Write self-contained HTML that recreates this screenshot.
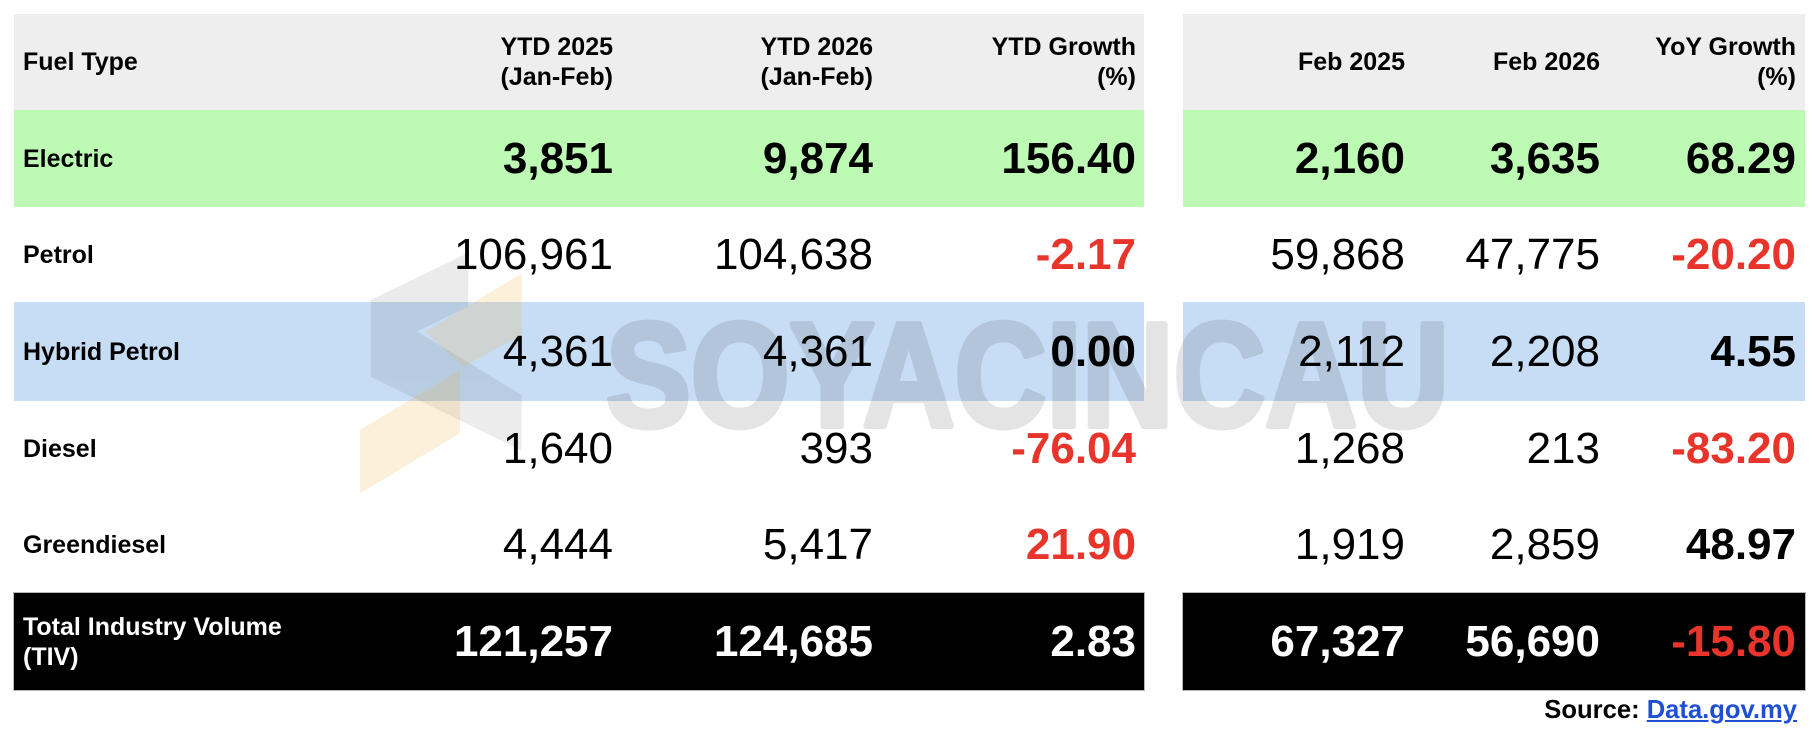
<!DOCTYPE html>
<html>
<head>
<meta charset="utf-8">
<style>
  html,body{margin:0;padding:0;}
  body{width:1812px;height:735px;background:#fff;position:relative;overflow:hidden;font-family:"Liberation Sans",Arial,sans-serif;color:#000;}
  .bg{position:absolute;}
  .c{position:absolute;display:flex;align-items:center;white-space:nowrap;}
  .r{justify-content:flex-end;text-align:right;}
  .lbl{font-weight:bold;font-size:25px;left:23px;line-height:30px;}
  .h{font-weight:bold;font-size:25px;line-height:30px;}
  .n{font-size:44px;}
  .b{font-weight:bold;}
  .red{color:#e8342a;}
  .w{color:#fff;}
</style>
</head>
<body>
<!-- backgrounds -->
<div class="bg" style="left:14px;top:14px;width:1130px;height:96px;background:#eeeeee;"></div>
<div class="bg" style="left:1183px;top:14px;width:622px;height:96px;background:#eeeeee;"></div>

<div class="bg" style="left:14px;top:110px;width:1130px;height:97px;background:#bdfbb4;"></div>
<div class="bg" style="left:1183px;top:110px;width:622px;height:97px;background:#bdfbb4;"></div>

<div class="bg" style="left:14px;top:302px;width:1130px;height:99px;background:#c7ddf5;"></div>
<div class="bg" style="left:1183px;top:302px;width:622px;height:99px;background:#c7ddf5;"></div>

<div class="bg" style="left:13px;top:592px;width:1130px;height:97px;background:#000;border:1px solid #b8b8b8;"></div>
<div class="bg" style="left:1182px;top:592px;width:622px;height:97px;background:#000;border:1px solid #b8b8b8;"></div>

<!-- header -->
<div class="c lbl" style="top:14px;height:96px;">Fuel Type</div>
<div class="c r h" style="top:14px;height:96px;right:1199px;">YTD 2025<br>(Jan-Feb)</div>
<div class="c r h" style="top:14px;height:96px;right:939px;">YTD 2026<br>(Jan-Feb)</div>
<div class="c r h" style="top:14px;height:96px;right:676px;">YTD Growth<br>(%)</div>
<div class="c r h" style="top:14px;height:96px;right:407px;">Feb 2025</div>
<div class="c r h" style="top:14px;height:96px;right:212px;">Feb 2026</div>
<div class="c r h" style="top:14px;height:96px;right:16px;">YoY Growth<br>(%)</div>

<!-- Electric -->
<div class="c lbl" style="top:110px;height:97px;">Electric</div>
<div class="c r n b" style="top:110px;height:97px;right:1199px;">3,851</div>
<div class="c r n b" style="top:110px;height:97px;right:939px;">9,874</div>
<div class="c r n b" style="top:110px;height:97px;right:676px;">156.40</div>
<div class="c r n b" style="top:110px;height:97px;right:407px;">2,160</div>
<div class="c r n b" style="top:110px;height:97px;right:212px;">3,635</div>
<div class="c r n b" style="top:110px;height:97px;right:16px;">68.29</div>

<!-- Petrol -->
<div class="c lbl" style="top:207px;height:95px;">Petrol</div>
<div class="c r n" style="top:207px;height:95px;right:1199px;">106,961</div>
<div class="c r n" style="top:207px;height:95px;right:939px;">104,638</div>
<div class="c r n b red" style="top:207px;height:95px;right:676px;">-2.17</div>
<div class="c r n" style="top:207px;height:95px;right:407px;">59,868</div>
<div class="c r n" style="top:207px;height:95px;right:212px;">47,775</div>
<div class="c r n b red" style="top:207px;height:95px;right:16px;">-20.20</div>

<!-- Hybrid Petrol -->
<div class="c lbl" style="top:302px;height:99px;">Hybrid Petrol</div>
<div class="c r n" style="top:302px;height:99px;right:1199px;">4,361</div>
<div class="c r n" style="top:302px;height:99px;right:939px;">4,361</div>
<div class="c r n b" style="top:302px;height:99px;right:676px;">0.00</div>
<div class="c r n" style="top:302px;height:99px;right:407px;">2,112</div>
<div class="c r n" style="top:302px;height:99px;right:212px;">2,208</div>
<div class="c r n b" style="top:302px;height:99px;right:16px;">4.55</div>

<!-- Diesel -->
<div class="c lbl" style="top:401px;height:96px;">Diesel</div>
<div class="c r n" style="top:401px;height:96px;right:1199px;">1,640</div>
<div class="c r n" style="top:401px;height:96px;right:939px;">393</div>
<div class="c r n b red" style="top:401px;height:96px;right:676px;">-76.04</div>
<div class="c r n" style="top:401px;height:96px;right:407px;">1,268</div>
<div class="c r n" style="top:401px;height:96px;right:212px;">213</div>
<div class="c r n b red" style="top:401px;height:96px;right:16px;">-83.20</div>

<!-- Greendiesel -->
<div class="c lbl" style="top:497px;height:96px;">Greendiesel</div>
<div class="c r n" style="top:497px;height:96px;right:1199px;">4,444</div>
<div class="c r n" style="top:497px;height:96px;right:939px;">5,417</div>
<div class="c r n b red" style="top:497px;height:96px;right:676px;">21.90</div>
<div class="c r n" style="top:497px;height:96px;right:407px;">1,919</div>
<div class="c r n" style="top:497px;height:96px;right:212px;">2,859</div>
<div class="c r n b" style="top:497px;height:96px;right:16px;">48.97</div>

<!-- TIV -->
<div class="c lbl w" style="top:593px;height:97px;">Total Industry Volume<br>(TIV)</div>
<div class="c r n b w" style="top:593px;height:97px;right:1199px;">121,257</div>
<div class="c r n b w" style="top:593px;height:97px;right:939px;">124,685</div>
<div class="c r n b w" style="top:593px;height:97px;right:676px;">2.83</div>
<div class="c r n b w" style="top:593px;height:97px;right:407px;">67,327</div>
<div class="c r n b w" style="top:593px;height:97px;right:212px;">56,690</div>
<div class="c r n b red" style="top:593px;height:97px;right:16px;">-15.80</div>

<!-- Source -->
<div style="position:absolute;top:695px;right:15px;font-size:25.6px;line-height:30px;font-weight:bold;white-space:nowrap;">Source: <span style="color:#1f4fd2;text-decoration:underline;">Data.gov.my</span></div>

<!-- Watermark -->
<svg width="1812" height="735" style="position:absolute;left:0;top:0;pointer-events:none;" xmlns="http://www.w3.org/2000/svg">
  <g opacity="0.075" fill="#000">
    <polygon points="370.7,300 468.3,252.7 468.3,306.7 370.7,354"/>
    <polygon points="370.7,303.3 521.7,395 521.7,450.7 370.7,376.7"/>
  </g>
  <g fill="rgba(240,180,70,0.2)">
    <polygon points="425,331.7 521.7,273.3 521.7,335 463.3,366.7"/>
    <polygon points="360,430 460,370 460,433.3 360,493.3"/>
  </g>
  <g opacity="0.1">
    <text x="606" y="426" font-family="Liberation Sans, Arial, sans-serif" font-weight="bold" font-size="148" fill="#000" stroke="#000" stroke-width="6" stroke-linejoin="round" textLength="843" lengthAdjust="spacingAndGlyphs">SOYACINCAU</text>
  </g>
</svg>
</body>
</html>
